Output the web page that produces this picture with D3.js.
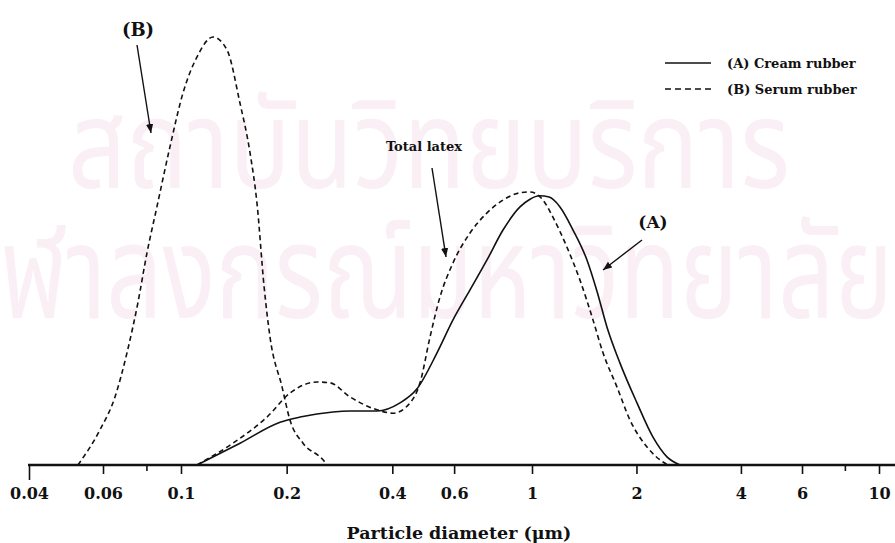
<!DOCTYPE html>
<html>
<head>
<meta charset="utf-8">
<script src="https://cdn.jsdelivr.net/npm/d3@7"></script>
<style>
  body { margin: 0; background: #fff; }
  svg { display: block; }
  text { font-family: "DejaVu Serif", serif; font-weight: bold; }
  text.wm { font-family: "Noto Sans Thai", "Noto Sans", sans-serif; font-weight: normal; }
</style>
</head>
<body>
<div id="chart"></div>
<script>
// particle size distributions, values are relative height (peak of B = 100)
const serumD   = [0.0523, 0.059, 0.0649, 0.0702, 0.0754, 0.080, 0.0854, 0.093, 0.1013, 0.111, 0.1234, 0.1352, 0.1472, 0.1573, 0.1646, 0.1725, 0.1793, 0.1941, 0.2044, 0.2226, 0.2539, 0.2606];
const serumV   = [0, 8.2, 15.9, 26.2, 37.9, 49.5, 60.3, 74.3, 86.9, 95.3, 100, 97.0, 84.6, 72.9, 61.2, 41.6, 29.9, 18.2, 10.5, 5.1, 1.2, 0];

const creamD   = [0.1111, 0.1473, 0.1915, 0.2183, 0.271, 0.303, 0.3617, 0.4207, 0.4703, 0.5363, 0.5955, 0.6659, 0.7443, 0.8268, 0.9242, 0.987, 1.05, 1.12, 1.204, 1.313, 1.44, 1.539, 1.645, 1.793, 2.007, 2.232, 2.449, 2.67];
const creamV   = [0, 5.1, 10.0, 11.2, 12.4, 12.6, 12.6, 14.5, 17.8, 26.2, 33.9, 40.9, 47.9, 54.9, 60.3, 62.1, 62.9, 62.6, 60.3, 54.9, 47.9, 40.6, 32.2, 23.8, 14.5, 6.5, 1.9, 0];

const totalD   = [0.1111, 0.1406, 0.1758, 0.2044, 0.2441, 0.2658, 0.303, 0.3617, 0.4018, 0.4491, 0.4797, 0.5122, 0.547, 0.5955, 0.6659, 0.7443, 0.8268, 0.9242, 0.987, 1.076, 1.149, 1.261, 1.375, 1.499, 1.602, 1.758, 1.916, 2.145, 2.385, 2.466];
const totalV   = [0, 5.1, 11.2, 16.8, 19.4, 19.2, 15.9, 12.9, 12.1, 14.5, 19.2, 29.9, 39.3, 47.2, 54.2, 58.9, 61.9, 63.6, 63.8, 61.9, 57.9, 50.9, 43.2, 33.9, 26.2, 18.2, 10.5, 4.2, 0.7, 0];

const majorTicks = [0.04, 0.06, 0.1, 0.2, 0.4, 0.6, 1, 2, 4, 6, 10];
const minorTicks = [0.08, 8];

const width = 895, height = 543;

const svg = d3.select("#chart").append("svg")
  .attr("width", width)
  .attr("height", height);

// faint watermark of the scan
const wm = svg.append("g").attr("fill", "#f9eff4");
wm.append("text").attr("class", "wm")
  .attr("x", 68).attr("y", 188)
  .attr("font-size", 124)
  .attr("textLength", 722).attr("lengthAdjust", "spacingAndGlyphs")
  .text("สถาบันวิทยบริการ");
wm.append("text").attr("class", "wm")
  .attr("x", -52).attr("y", 318)
  .attr("font-size", 130)
  .attr("textLength", 945).attr("lengthAdjust", "spacingAndGlyphs")
  .text("จุฬาลงกรณ์มหาวิทยาลัย");

// hand drawn log axis, slightly uneven at the low end
const x = d3.scaleLog()
  .domain([0.04, 0.06, 0.1, 1, 10])
  .range([29, 103, 181, 532, 879]);

const y = d3.scaleLinear()
  .domain([0, 100])
  .range([465, 37]);

const line = d3.line()
  .x(d => x(d[0]))
  .y(d => y(d[1]))
  .curve(d3.curveMonotoneX);

const series = [
  { d: serumD, v: serumV, dash: "5,3.5" },
  { d: totalD, v: totalV, dash: "5,3.5" },
  { d: creamD, v: creamV, dash: null }
];

svg.selectAll(".curve")
  .data(series)
  .enter()
  .append("path")
  .attr("class", "curve")
  .attr("d", s => line(d3.zip(s.d, s.v)))
  .attr("fill", "none")
  .attr("stroke", "#111")
  .attr("stroke-width", 1.6)
  .attr("stroke-dasharray", s => s.dash);

// axis
const axisG = svg.append("g").attr("transform", "translate(0,465)");
axisG.call(d3.axisBottom(x)
  .tickValues(majorTicks)
  .tickSize(9)
  .tickPadding(14)
  .tickFormat(d => String(d)));
axisG.select(".domain").remove();
axisG.append("line")
  .attr("x1", 28).attr("x2", width)
  .attr("stroke", "#111").attr("stroke-width", 2.6);
axisG.selectAll(".tick line").attr("stroke", "#111").attr("stroke-width", 1.6);
axisG.selectAll(".tick").filter(d => d === 0.04).select("line").attr("y2", 15);
axisG.selectAll(".tick text")
  .attr("fill", "#111")
  .attr("font-size", 16)
  .attr("font-family", "DejaVu Serif, serif")
  .attr("font-weight", "bold");

axisG.selectAll(".minor")
  .data(minorTicks)
  .enter()
  .append("line")
  .attr("class", "minor")
  .attr("x1", d => x(d)).attr("x2", d => x(d))
  .attr("y1", 0).attr("y2", 6)
  .attr("stroke", "#111").attr("stroke-width", 1.6);

svg.append("text")
  .attr("x", 459).attr("y", 539)
  .attr("text-anchor", "middle")
  .attr("font-size", 17.5)
  .attr("fill", "#111")
  .text("Particle diameter (μm)");

// arrows and labels
svg.append("defs").append("marker")
  .attr("id", "head")
  .attr("viewBox", "0 0 10 10")
  .attr("refX", 10).attr("refY", 5)
  .attr("markerWidth", 9).attr("markerHeight", 9)
  .attr("markerUnits", "userSpaceOnUse")
  .attr("orient", "auto")
  .append("path")
  .attr("d", "M0,1 L10,5 L0,9 Z")
  .attr("fill", "#111");

const notes = [
  { label: "(B)", tx: 138, ty: 36, size: 18, x1: 137, y1: 45, x2: 151, y2: 133 },
  { label: "Total latex", tx: 424, ty: 151, size: 13, x1: 432, y1: 168, x2: 446, y2: 257 },
  { label: "(A)", tx: 653, ty: 228, size: 17, x1: 642, y1: 240, x2: 603, y2: 270 }
];

svg.selectAll(".note")
  .data(notes)
  .enter()
  .append("text")
  .attr("class", "note")
  .attr("x", d => d.tx).attr("y", d => d.ty)
  .attr("text-anchor", "middle")
  .attr("font-size", d => d.size)
  .attr("fill", "#111")
  .text(d => d.label);

svg.selectAll(".arrow")
  .data(notes)
  .enter()
  .append("line")
  .attr("class", "arrow")
  .attr("x1", d => d.x1).attr("y1", d => d.y1)
  .attr("x2", d => d.x2).attr("y2", d => d.y2)
  .attr("stroke", "#111").attr("stroke-width", 1.4)
  .attr("marker-end", "url(#head)");

// legend
const legendItems = [
  { label: "(A) Cream rubber", dash: null },
  { label: "(B) Serum rubber", dash: "6,4" }
];
const lg = svg.selectAll(".legend")
  .data(legendItems)
  .enter()
  .append("g")
  .attr("class", "legend")
  .attr("transform", (d, i) => "translate(665," + (63 + i * 26) + ")");
lg.append("line")
  .attr("x1", 0).attr("x2", 46)
  .attr("stroke", "#111").attr("stroke-width", 1.4)
  .attr("stroke-dasharray", d => d.dash);
lg.append("text")
  .attr("x", 62).attr("y", 5)
  .attr("font-size", 13)
  .attr("fill", "#111")
  .text(d => d.label);
</script>
</body>
</html>
